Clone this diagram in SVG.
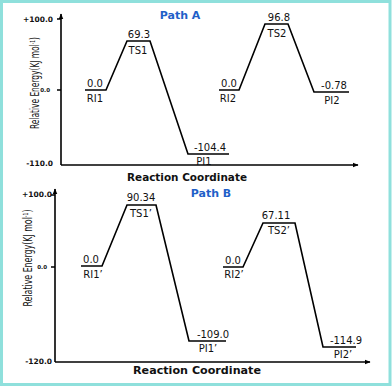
<svg xmlns="http://www.w3.org/2000/svg" width="392" height="388" viewBox="0 0 392 388">
<style>
.ax{stroke:#000;stroke-width:1.6;fill:none}
.pf{stroke:#000;stroke-width:1.6;fill:none;stroke-linejoin:miter}
.v{font-family:"DejaVu Sans",sans-serif;font-size:10px;fill:#111}
.tk{font-family:"DejaVu Sans",sans-serif;font-size:7.5px;font-weight:bold;fill:#111}
.tk0{font-family:"DejaVu Sans",sans-serif;font-size:5.5px;font-weight:bold;fill:#111}
.t{font-family:"DejaVu Sans",sans-serif;font-size:11px;font-weight:bold;fill:#1f5fc8}
.xl{font-family:"DejaVu Sans",sans-serif;font-size:11px;font-weight:bold;fill:#111}
.yl{font-family:"DejaVu Sans Condensed","DejaVu Sans",sans-serif;font-size:12px;fill:#111}
</style>
<defs>
<marker id="ah" viewBox="0 0 10 10" refX="9" refY="5" markerWidth="6" markerHeight="6" orient="auto" markerUnits="userSpaceOnUse">
<path d="M0,1 L10,5 L0,9 Z" fill="#000"/>
</marker>
</defs>
<rect x="0" y="0" width="392" height="388" fill="#fff"/>
<rect x="1.5" y="1.5" width="388.5" height="383" fill="none" stroke="#8fe0dc" stroke-width="3"/>

<g id="connectors">
<path class="ax" d="M61,165 V14" marker-end="url(#ah)"/>
<path class="ax" d="M61,165 H358" marker-end="url(#ah)"/>
<path class="ax" d="M57,19 H61 M57,90 H61"/>
<path class="ax" d="M55,362 V189" marker-end="url(#ah)"/>
<path class="ax" d="M55,362 H370" marker-end="url(#ah)"/>
<path class="ax" d="M51,195 H55 M51,267 H55"/>
<path class="pf" d="M85,90 H106 L127,41 H150 L188,154 H229"/>
<path class="pf" d="M219,90 H239 L265,24 H288 L314,92 H349"/>
<path class="pf" d="M81,266 H102 L127,205 H156 L189,341 H226"/>
<path class="pf" d="M223,267 H243 L263,223 H295 L323,347 H356"/>
</g>

<g id="panelA-axis">
<text class="tk" x="53" y="21.5" text-anchor="end">+100.0</text>
<text class="tk0" x="50" y="92" text-anchor="end">0.0</text>
<text class="tk" x="53" y="166" text-anchor="end">-110.0</text>
<text class="yl" transform="translate(39,83) rotate(-90)" text-anchor="middle" textLength="92" lengthAdjust="spacingAndGlyphs">Relative Energy(KJ mol<tspan font-size="7" dy="-4">-1</tspan><tspan dy="4">)</tspan></text>
<text class="xl" x="187" y="181" text-anchor="middle" textLength="120" lengthAdjust="spacingAndGlyphs">Reaction Coordinate</text>
<text class="t" x="180" y="19" text-anchor="middle">Path A</text>
</g>

<g id="RI1"><text class="v" x="95" y="87" text-anchor="middle">0.0</text><text class="v" x="95" y="101.5" text-anchor="middle">RI1</text></g>
<g id="TS1"><text class="v" x="139" y="37.5" text-anchor="middle">69.3</text><text class="v" x="138" y="54" text-anchor="middle">TS1</text></g>
<g id="PI1"><text class="v" x="210" y="150.5" text-anchor="middle">-104.4</text><text class="v" x="204" y="164.5" text-anchor="middle">PI1</text></g>
<g id="RI2"><text class="v" x="229" y="87" text-anchor="middle">0.0</text><text class="v" x="228" y="101.5" text-anchor="middle">RI2</text></g>
<g id="TS2"><text class="v" x="279" y="21" text-anchor="middle">96.8</text><text class="v" x="277" y="37" text-anchor="middle">TS2</text></g>
<g id="PI2"><text class="v" x="334" y="89" text-anchor="middle">-0.78</text><text class="v" x="332" y="103.5" text-anchor="middle">PI2</text></g>

<g id="panelB-axis">
<text class="tk" x="52" y="197" text-anchor="end">+100.0</text>
<text class="tk0" x="47" y="269" text-anchor="end">0.0</text>
<text class="tk" x="52" y="364" text-anchor="end">-120.0</text>
<text class="yl" transform="translate(32,258) rotate(-90)" text-anchor="middle" textLength="97" lengthAdjust="spacingAndGlyphs">Relative Energy(KJ mol<tspan font-size="7" dy="-4">-1</tspan><tspan dy="4">)</tspan></text>
<text class="xl" x="197" y="374" text-anchor="middle" textLength="128" lengthAdjust="spacingAndGlyphs">Reaction Coordinate</text>
<text class="t" x="211" y="197" text-anchor="middle">Path B</text>
</g>

<g id="RI1p"><text class="v" x="91" y="263" text-anchor="middle">0.0</text><text class="v" x="93" y="277.5" text-anchor="middle">RI1’</text></g>
<g id="TS1p"><text class="v" x="141" y="201" text-anchor="middle">90.34</text><text class="v" x="141" y="217" text-anchor="middle">TS1’</text></g>
<g id="PI1p"><text class="v" x="213" y="337.5" text-anchor="middle">-109.0</text><text class="v" x="208" y="352" text-anchor="middle">PI1’</text></g>
<g id="RI2p"><text class="v" x="233" y="263.5" text-anchor="middle">0.0</text><text class="v" x="234" y="278" text-anchor="middle">RI2’</text></g>
<g id="TS2p"><text class="v" x="276" y="218.5" text-anchor="middle">67.11</text><text class="v" x="279" y="233.5" text-anchor="middle">TS2’</text></g>
<g id="PI2p"><text class="v" x="346" y="343.5" text-anchor="middle">-114.9</text><text class="v" x="343" y="358" text-anchor="middle">PI2’</text></g>
</svg>
